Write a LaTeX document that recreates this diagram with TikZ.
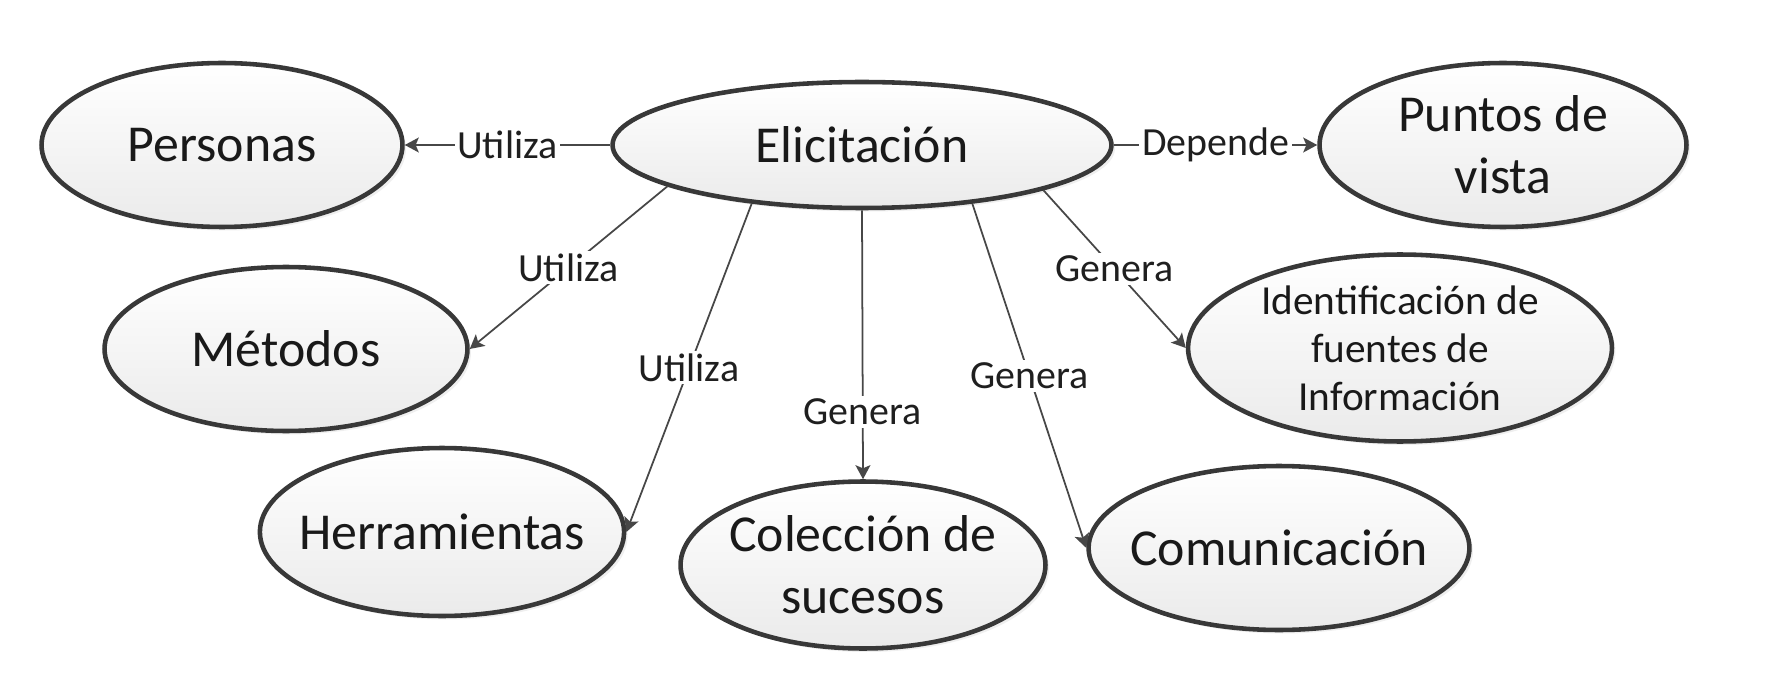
\documentclass[tikz,border=0pt]{standalone}
\usepackage{fontspec}
\setmainfont{Carlito}
\usetikzlibrary{arrows.meta,shapes.geometric,shadows}

\begin{document}
\begin{tikzpicture}[x=0.02cm,y=-0.02cm,>={Stealth[length=8pt,width=8.5pt,inset=1.8pt]},
  concept/.style={ellipse,draw=black!78,line width=2.6pt,top color=white,bottom color=black!8,inner sep=-8pt,align=center,text=black!90,font=\fontsize{29.5}{35.5}\selectfont,drop shadow={opacity=0.13,shadow xshift=2pt,shadow yshift=-2pt}},
  rel/.style={draw=black!72,line width=1pt,->},
  lbl/.style={fill=white,inner sep=1.5pt,text=black!88,font=\fontsize{22.7}{26}\selectfont}]
\useasboundingbox (0,0) rectangle (1778,682);
% centre
\node[concept,minimum width=9.98cm,minimum height=2.52cm] (elic) at (862,145) {Elicitación};
% outer concepts
\node[concept,minimum width=7.22cm,minimum height=3.28cm] (pers) at (222,145) {Personas};
\node[concept,minimum width=7.34cm,minimum height=3.28cm] (pto) at (1503,145) {Puntos de\\vista};
\node[concept,minimum width=7.26cm,minimum height=3.28cm] (met) at (286,349) {Métodos};
\node[concept,minimum width=8.48cm,minimum height=3.74cm,font=\fontsize{23.5}{27.4}\selectfont] (ident) at (1400,348) {Identificación de\\fuentes de\\Información};
\node[concept,minimum width=7.26cm,minimum height=3.36cm] (herr) at (442,532) {Herramientas};
\node[concept,minimum width=7.3cm,minimum height=3.34cm] (colec) at (863,565) {Colección de\\sucesos};
\node[concept,minimum width=7.5cm,minimum height=3.28cm] (comun) at (1279,548) {Comunicación};
% relations
\draw[rel] (elic.west) -- node[lbl] {Utiliza} (pers.east);
\draw[rel] (elic.east) -- node[lbl] {Depende} (pto.west);
\draw[rel] (elic.192) -- node[lbl] {Utiliza} (met.east);
\draw[rel] (elic.208) -- node[lbl] {Utiliza} (herr.east);
\draw[rel] (elic.south) -- node[lbl,pos=0.75] {Genera} (colec.north);
\draw[rel] (elic.-28) -- node[lbl] {Genera} (comun.west);
\draw[rel] (elic.-14) -- node[lbl] {Genera} (ident.west);
\end{tikzpicture}
\end{document}
